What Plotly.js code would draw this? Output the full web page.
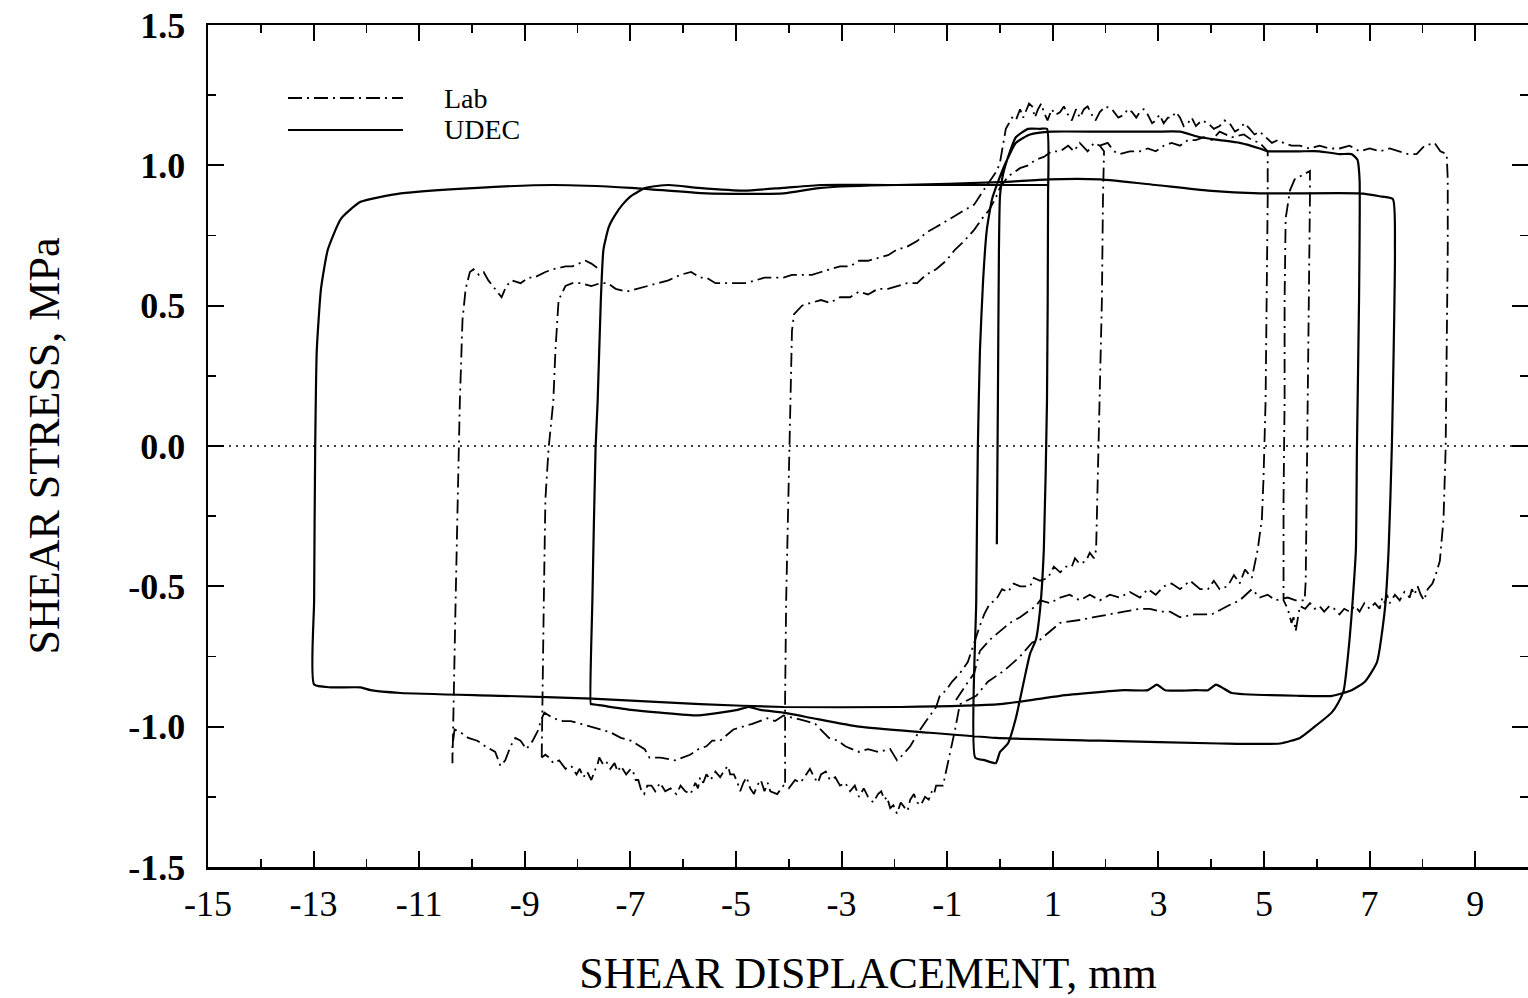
<!DOCTYPE html>
<html>
<head>
<meta charset="utf-8">
<script src="https://cdn.plot.ly/plotly-3.0.1.min.js"></script>
<style>html,body{margin:0;padding:0;background:#fff;}#chart{width:1528px;height:998px;}</style>
</head>
<body>
<div id="chart"></div>
<script>
// ---------- tick labels ----------
const xTickVals = [-15,-13,-11,-9,-7,-5,-3,-1,1,3,5,7,9];
const xTickText = ['-15','-13','-11','-9','-7','-5','-3','-1','1','3','5','7','9'];
const yTickVals = [-1.5,-1.0,-0.5,0.0,0.5,1.0,1.5];
const yTickText = ['-1.5','-1.0','-0.5','0.0','0.5','1.0','1.5'];

// ---------- UDEC (numerical model), shear displacement mm / shear stress MPa ----------
const udecX = [-0.06,-0.04,-0.02,0.00,0.06,0.19,0.30,0.53,0.76,0.89,
 0.91,0.89,0.83,0.76,0.68,0.57,0.45,0.30,0.15,0.00,-0.08,-0.28,-0.47,
 -0.45,-0.42,-0.38,-0.32,-0.25,-0.15,-0.04,0.11,0.30,0.57,0.98,1.89,2.95,3.41,3.79,4.16,4.54,4.92,5.07,5.30,5.68,6.05,6.43,6.66,6.77,
 6.81,6.80,6.76,6.74,6.68,6.62,6.51,6.39,6.28,5.96,5.68,5.30,4.16,1.89,-0.08,-1.44,-2.67,-3.54,-4.10,-4.54,-4.76,-4.97,-5.71,-6.43,-6.99,-7.73,
 -7.75,-7.72,-7.66,-7.62,-7.56,-7.51,-7.41,-7.30,-7.15,-6.99,-6.71,-6.28,-5.71,-4.84,-4.10,-3.39,-1.95,0.00,0.91,1.89,2.95,3.94,4.92,6.81,7.19,7.44,
 7.48,7.42,7.36,7.29,7.14,6.91,6.66,6.29,5.68,4.39,4.20,4.09,3.94,3.71,3.13,2.97,2.80,2.35,1.14,0.00,-1.89,-4.10,-5.68,-7.73,-9.46,-11.35,-11.92,-12.11,-12.67,-12.99,
 -12.99,-12.97,-12.94,-12.86,-12.73,-12.48,-12.11,-11.35,-9.89,-8.45,-6.99,-5.56,-4.10,-3.39,-1.95,0.00,0.91];
const udecY = [-0.35,0.16,0.70,0.89,0.97,1.05,1.10,1.13,1.13,1.13,
 0.88,0.16,-0.37,-0.58,-0.69,-0.74,-0.84,-0.97,-1.06,-1.09,-1.13,-1.12,-1.11,
 -0.55,-0.01,0.34,0.59,0.77,0.88,0.94,1.01,1.08,1.11,1.12,1.12,1.12,1.12,1.10,1.09,1.08,1.06,1.05,1.05,1.05,1.05,1.04,1.04,1.02,
 0.95,0.52,-0.01,-0.37,-0.55,-0.69,-0.87,-0.92,-0.95,-1.00,-1.04,-1.06,-1.06,-1.05,-1.04,-1.02,-1.00,-0.97,-0.95,-0.94,-0.93,-0.94,-0.96,-0.95,-0.94,-0.92,
 -0.92,-0.55,-0.01,0.16,0.52,0.70,0.78,0.82,0.86,0.89,0.92,0.93,0.92,0.91,0.92,0.93,0.93,0.94,0.95,0.95,0.93,0.91,0.90,0.90,0.89,0.88,
 0.70,-0.01,-0.37,-0.58,-0.77,-0.84,-0.87,-0.89,-0.89,-0.88,-0.86,-0.85,-0.87,-0.87,-0.87,-0.85,-0.87,-0.87,-0.89,-0.92,-0.93,-0.93,-0.92,-0.90,-0.89,-0.88,-0.87,-0.86,-0.86,-0.85,
 -0.55,-0.01,0.34,0.56,0.70,0.81,0.87,0.90,0.92,0.93,0.92,0.90,0.90,0.92,0.93,0.93,0.93];

// ---------- Lab test, branch A ----------
const labA_x = [-4.07,-4.07,-4.05,-4.01,-3.97,-3.94,-3.90,-3.75,-3.58,-3.39,-3.22,-3.03,-2.84,-2.67,-2.50,-2.31,-2.12,-1.95,-1.76,-1.57,-1.40,-1.21,-1.02,-0.85,-0.68,-0.49,-0.34,-0.21,-0.09,0.00,0.15,0.38,0.53,0.68,0.83,0.98,1.14,1.29,1.40,1.51,1.66,1.78,1.89,1.97,
 1.95,1.93,1.89,1.85,1.82,1.78,
 1.70,1.63,1.51,1.42,1.36,1.25,1.14,1.02,0.91,0.76,0.64,0.57,0.38,0.26,0.15,0.04,-0.08,-0.19,-0.30,-0.38,-0.45,-0.53,-0.61,-0.76,-0.91,-1.02,-1.14,-1.21,-1.29,-1.40,-1.51,-1.70,-1.89,
 -1.95,-2.08,-2.31,-2.50,-2.67,-2.93,-3.07,-3.24,-3.50,-3.67,-3.88,-4.10,-4.26,-4.41,-4.69,-4.88,-5.05,-5.30,-5.45,-5.56,-5.71,-5.87,-6.15,-6.43,-6.64,-6.73,-6.81,-6.99,-7.18,-7.38,-7.57,-7.74,-7.94,-8.13,-8.28,-8.46,-8.63,
 -8.70,-8.74,-8.85,-8.97,-9.08,-9.18,-9.27,-9.37,-9.46,-9.56,-9.75,-9.90,-10.07,-10.22,-10.33,
 -10.37,-10.37,-10.35,-10.31,-10.27,-10.23,-10.18,-10.12,-10.04,
 -9.97,-9.87,-9.78,-9.69,-9.56,-9.44,-9.35,-9.25,-9.08,-8.93,-8.82,-8.61,-8.46,-8.23,-8.10,-7.85,-7.74,-7.59];
const labA_y = [-1.20,-0.90,-0.55,-0.19,0.16,0.41,0.47,0.50,0.51,0.52,0.51,0.53,0.53,0.55,0.54,0.56,0.56,0.57,0.58,0.58,0.61,0.63,0.66,0.70,0.73,0.77,0.81,0.84,0.88,0.92,0.96,0.99,1.00,1.02,1.03,1.05,1.05,1.07,1.05,1.08,1.05,1.08,1.07,1.05,
 0.88,0.52,0.16,-0.19,-0.37,-0.40,
 -0.38,-0.41,-0.42,-0.40,-0.43,-0.43,-0.45,-0.43,-0.47,-0.48,-0.47,-0.50,-0.50,-0.49,-0.52,-0.51,-0.55,-0.56,-0.60,-0.64,-0.68,-0.73,-0.77,-0.81,-0.84,-0.87,-0.89,-0.93,-0.95,-0.98,-1.01,-1.07,-1.11,
 -1.12,-1.08,-1.09,-1.08,-1.09,-1.07,-1.05,-1.04,-0.99,-0.98,-0.97,-0.96,-0.98,-0.97,-0.99,-1.00,-1.01,-1.05,-1.05,-1.07,-1.08,-1.10,-1.12,-1.11,-1.11,-1.08,-1.07,-1.05,-1.04,-1.02,-1.01,-1.00,-0.99,-0.98,-0.98,-0.97,-0.95,
 -0.98,-1.01,-1.05,-1.08,-1.05,-1.04,-1.07,-1.12,-1.14,-1.09,-1.07,-1.05,-1.04,-1.02,-1.01,
 -1.07,-1.13,-0.90,-0.55,-0.19,0.16,0.45,0.56,0.62,
 0.63,0.61,0.62,0.59,0.56,0.53,0.57,0.59,0.58,0.60,0.60,0.62,0.63,0.64,0.64,0.66,0.65,0.63];

// ---------- Lab test, branch B ----------
const labB_x = [-8.68,-8.66,-8.64,-8.61,-8.55,-8.46,-8.42,-8.36,-8.23,
 -8.10,-7.95,-7.74,-7.57,-7.43,-7.28,-7.07,-6.87,-6.64,-6.43,-6.28,-6.05,-5.85,-5.68,-5.56,-5.39,-5.20,-5.01,-4.84,-4.63,-4.46,-4.29,-4.10,-3.94,-3.75,-3.56,-3.39,-3.22,-3.03,-2.84,-2.67,-2.50,-2.31,-2.12,-1.95,-1.76,-1.57,-1.40,-1.21,-1.02,-0.85,-0.68,-0.49,-0.28,-0.06,
 0.00,0.06,0.11,0.17,0.23,0.30,0.38,0.44,0.49,0.55,0.61,0.66,0.72,0.78,0.83,0.90,0.98,1.05,1.14,1.21,1.29,1.36,1.44,1.51,1.59,1.66,1.74,1.81,1.89,2.00,2.12,2.24,2.35,2.42,2.50,2.58,2.65,2.72,2.80,2.88,2.95,3.02,3.10,3.18,3.25,3.33,3.41,3.48,3.56,3.63,3.71,3.82,3.94,4.05,4.16,4.25,4.35,4.45,4.54,4.63,4.73,4.82,4.92,5.03,5.15,5.26,5.37,5.52,5.68,5.86,6.05,6.24,6.43,6.62,6.81,7.00,7.19,7.38,7.57,7.73,7.89,8.04,8.23,8.34,8.46,
 8.48,8.48,8.46,8.44,8.40,8.33,8.25,8.19,
 8.10,8.03,7.97,7.91,7.85,7.80,7.76,7.66,7.57,7.48,7.38,7.33,7.29,7.24,7.19,7.10,7.00,6.90,6.81,6.72,6.62,6.52,6.43,6.33,6.24,6.14,6.05,5.96,5.87,5.78,5.68,5.64,5.60,5.56,5.52,5.45,
 5.37,5.37,5.39,5.39,5.41,5.49,5.58,5.68,5.77,5.87,
 5.87,5.85,5.83,5.81,5.79,5.77,
 5.60,5.45,5.22,5.07,4.92,4.77,4.54,4.31,4.01,3.69,3.41,3.22,3.03,2.84,2.65,2.35,2.04,1.78,1.51,1.14,0.95,0.76,0.61,0.38,0.08,-0.23,-0.45,-0.64,-0.76,-0.85,-0.93,-1.00,-1.08,
 -1.21,-1.25,-1.29,-1.35,-1.42,-1.50,-1.57,-1.63,-1.70,-1.75,-1.80,-1.88,-1.95,-2.02,-2.08,-2.14,-2.19,-2.25,-2.31,-2.40,-2.50,-2.58,-2.67,-2.75,-2.84,-2.93,-3.03,-3.12,-3.22,-3.30,-3.39,-3.45,-3.52,-3.60,-3.67,-3.78,-3.88,-4.00,-4.10,-4.22,-4.35,-4.40,-4.46,-4.53,-4.60,-4.66,-4.73,-4.80,-4.86,-4.92,-4.97,-5.04,-5.11,-5.15,-5.20,-5.30,-5.39,-5.48,-5.56,-5.62,-5.68,-5.72,-5.77,-5.86,-5.96,-6.05,-6.13,-6.24,-6.34,-6.44,-6.53,-6.60,-6.68,-6.74,-6.79,-6.85,-6.90,-6.95,-6.99,-7.08,-7.18,-7.24,-7.30,-7.38,-7.47,-7.53,-7.59,-7.63,-7.66,-7.70,-7.74,-7.82,-7.89,-7.96,-8.02,-8.12,-8.23,-8.35,-8.46,-8.54,-8.61,-8.68];
const labB_y = [-1.11,-0.90,-0.55,-0.19,-0.01,0.16,0.34,0.52,0.57,
 0.58,0.58,0.57,0.58,0.58,0.56,0.55,0.56,0.57,0.58,0.59,0.61,0.62,0.60,0.60,0.58,0.58,0.58,0.58,0.59,0.60,0.60,0.60,0.61,0.61,0.61,0.62,0.63,0.64,0.64,0.66,0.66,0.67,0.68,0.70,0.71,0.73,0.76,0.78,0.80,0.82,0.84,0.86,0.92,0.98,
 1.01,1.08,1.13,1.15,1.17,1.16,1.20,1.17,1.19,1.22,1.21,1.17,1.20,1.22,1.19,1.16,1.20,1.18,1.19,1.21,1.18,1.16,1.20,1.17,1.20,1.21,1.18,1.16,1.19,1.21,1.20,1.17,1.18,1.20,1.19,1.17,1.19,1.20,1.18,1.15,1.16,1.18,1.15,1.17,1.17,1.19,1.17,1.14,1.15,1.17,1.14,1.16,1.15,1.13,1.14,1.16,1.15,1.12,1.13,1.15,1.13,1.11,1.12,1.10,1.08,1.09,1.08,1.07,1.07,1.06,1.07,1.06,1.06,1.07,1.05,1.06,1.05,1.06,1.05,1.04,1.04,1.07,1.08,1.05,1.04,
 0.95,0.70,0.34,-0.01,-0.26,-0.41,-0.46,-0.49,
 -0.51,-0.55,-0.53,-0.50,-0.53,-0.51,-0.54,-0.52,-0.55,-0.53,-0.56,-0.53,-0.56,-0.54,-0.58,-0.56,-0.58,-0.56,-0.59,-0.57,-0.59,-0.58,-0.60,-0.58,-0.57,-0.59,-0.57,-0.58,-0.56,-0.58,-0.57,-0.62,-0.66,-0.61,-0.63,-0.58,
 -0.55,-0.19,0.16,0.52,0.81,0.91,0.95,0.96,0.97,0.98,
 0.88,0.52,0.16,-0.19,-0.48,-0.55,
 -0.55,-0.54,-0.55,-0.53,-0.54,-0.51,-0.55,-0.57,-0.60,-0.60,-0.61,-0.59,-0.59,-0.58,-0.58,-0.59,-0.60,-0.61,-0.62,-0.63,-0.66,-0.69,-0.70,-0.75,-0.80,-0.84,-0.89,-0.91,-0.92,-1.01,-1.08,-1.15,-1.21,
 -1.21,-1.24,-1.23,-1.26,-1.25,-1.28,-1.27,-1.24,-1.26,-1.30,-1.29,-1.27,-1.31,-1.28,-1.29,-1.25,-1.26,-1.23,-1.24,-1.27,-1.25,-1.22,-1.25,-1.21,-1.23,-1.20,-1.21,-1.18,-1.19,-1.16,-1.17,-1.20,-1.18,-1.15,-1.17,-1.20,-1.19,-1.22,-1.21,-1.24,-1.23,-1.20,-1.23,-1.19,-1.21,-1.24,-1.22,-1.18,-1.20,-1.23,-1.20,-1.17,-1.17,-1.14,-1.15,-1.18,-1.16,-1.19,-1.17,-1.20,-1.18,-1.22,-1.20,-1.24,-1.23,-1.21,-1.24,-1.22,-1.23,-1.20,-1.23,-1.21,-1.21,-1.24,-1.23,-1.19,-1.19,-1.16,-1.15,-1.17,-1.14,-1.16,-1.13,-1.15,-1.12,-1.13,-1.11,-1.14,-1.15,-1.17,-1.19,-1.16,-1.18,-1.15,-1.17,-1.14,-1.15,-1.12,-1.13,-1.11,-1.10,-1.11];

// ---------- Lab test, branch C ----------
const labC_x = [1.89,2.04,2.16,2.27,2.46,2.65,2.80,2.95,3.10,3.25,3.41,3.56,3.71,3.86,4.01,4.16,4.39,4.62,4.77,4.92,5.07,
 5.07,5.05,5.03,4.99,4.96,4.88,
 4.83,4.77,4.64,4.54,4.43,4.31,4.16,4.05,3.94,3.79,3.60,3.41,3.25,3.10,2.95,2.80,2.65,2.46,2.27,2.08,1.89,1.70,1.51,1.32,1.14,0.95,0.76,0.68,0.53,0.38,0.19,0.00,-0.19,-0.38,-0.49,-0.64,-0.85];
const labC_y = [1.07,1.08,1.05,1.04,1.05,1.05,1.06,1.05,1.07,1.08,1.07,1.09,1.09,1.10,1.09,1.12,1.10,1.11,1.09,1.08,1.05,
 0.88,0.52,0.16,-0.12,-0.26,-0.37,
 -0.42,-0.47,-0.44,-0.49,-0.46,-0.50,-0.51,-0.48,-0.51,-0.51,-0.48,-0.51,-0.49,-0.50,-0.53,-0.51,-0.54,-0.52,-0.54,-0.53,-0.55,-0.53,-0.55,-0.53,-0.54,-0.56,-0.55,-0.57,-0.59,-0.61,-0.63,-0.66,-0.69,-0.73,-0.81,-0.85,-0.91];

// ---------- styling ----------
const FONT = 'Liberation Serif, "Times New Roman", Times, serif';
const LAB_DASH = '14px,5px,2px,5px';

const labLine = {color:'black', width:1.8, dash:LAB_DASH};
const traces = [
  {x:labA_x, y:labA_y, type:'scatter', mode:'lines', name:'Lab', legendgroup:'lab', line:labLine, hoverinfo:'skip'},
  {x:labB_x, y:labB_y, type:'scatter', mode:'lines', name:'Lab', legendgroup:'lab', line:labLine, hoverinfo:'skip'},
  {x:labC_x, y:labC_y, type:'scatter', mode:'lines', name:'Lab', legendgroup:'lab', line:labLine, hoverinfo:'skip'},
  {x:udecX, y:udecY, type:'scatter', mode:'lines', name:'UDEC', line:{color:'black', width:2.2, shape:'spline', smoothing:0.5}, hoverinfo:'skip'}
];

const axisCommon = {
  ticks:'inside', ticklen:16, tickwidth:2, tickcolor:'black',
  showline:true, linecolor:'black', linewidth:2.5, mirror:'allticks',
  showgrid:false, zeroline:false, tickmode:'array'
};

const layout = {
  width:1528, height:998,
  margin:{l:208, r:0, t:25, b:131},
  paper_bgcolor:'white', plot_bgcolor:'white',
  showlegend:false,
  xaxis:Object.assign({}, axisCommon, {
    range:[-15,10], tickvals:xTickVals, ticktext:xTickText,
    tickfont:{family:FONT, size:36, color:'black'},
    ticklabelstandoff:3,
    minor:{tickmode:'linear', tick0:-15, dtick:1, ticks:'inside', ticklen:8, tickwidth:1.5, tickcolor:'black', showgrid:false},
    title:{text:'SHEAR DISPLACEMENT, mm', font:{family:FONT, size:44, color:'black'}, standoff:42}
  }),
  yaxis:Object.assign({}, axisCommon, {
    range:[-1.5,1.5], tickvals:yTickVals, ticktext:yTickText,
    tickfont:{family:FONT, size:36, color:'black', weight:'bold'},
    ticklabelstandoff:13,
    minor:{tickmode:'linear', tick0:-1.5, dtick:0.25, ticks:'inside', ticklen:8, tickwidth:1.5, tickcolor:'black', showgrid:false},
    title:{text:'SHEAR STRESS, MPa', font:{family:FONT, size:44, color:'black'}, standoff:55}
  }),
  shapes:[
    {type:'line', xref:'paper', yref:'y', x0:0, x1:1, y0:0, y1:0, layer:'below',
     line:{color:'black', width:1.5, dash:'2px,5px'}},
    {type:'line', xref:'paper', yref:'paper', x0:0.0606, x1:0.1477, y0:0.9133, y1:0.9133,
     line:{color:'black', width:1.8, dash:LAB_DASH}},
    {type:'line', xref:'paper', yref:'paper', x0:0.0606, x1:0.1477, y0:0.8753, y1:0.8753,
     line:{color:'black', width:2}}
  ],
  annotations:[
    {xref:'paper', yref:'paper', x:0.1773, y:0.9133, xanchor:'left', yanchor:'middle', showarrow:false,
     text:'Lab', font:{family:FONT, size:28, color:'black'}},
    {xref:'paper', yref:'paper', x:0.1773, y:0.8753, xanchor:'left', yanchor:'middle', showarrow:false,
     text:'UDEC', font:{family:FONT, size:28, color:'black'}}
  ]
};

Plotly.newPlot('chart', traces, layout, {displayModeBar:false, staticPlot:true});
</script>
</body>
</html>
